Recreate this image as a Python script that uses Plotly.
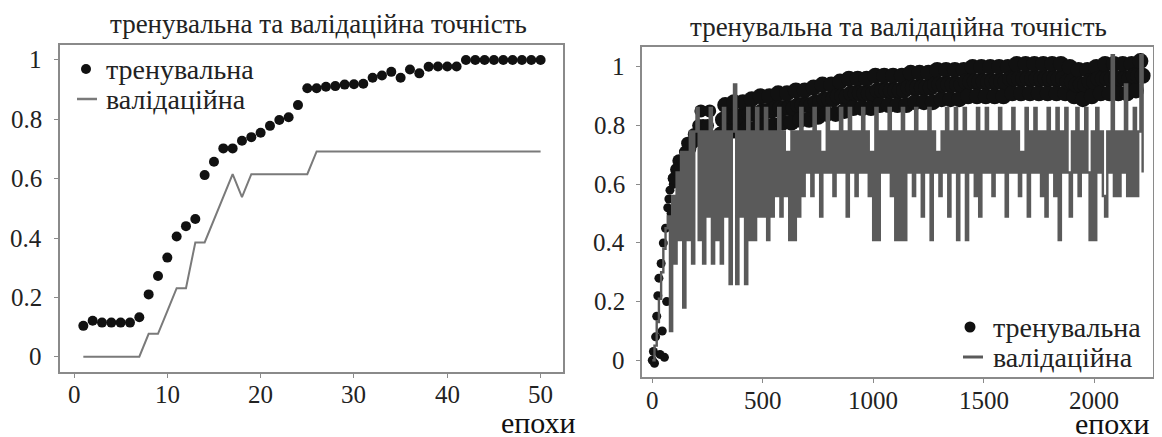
import plotly.graph_objects as go

# ---------------- left chart data (50 epochs) ----------------
epochs_left = list(range(1, 51))
train_left = [0.104, 0.121, 0.115, 0.115, 0.115, 0.115, 0.133, 0.21, 0.272, 0.334,
              0.405, 0.44, 0.464, 0.612, 0.657, 0.702, 0.702, 0.728, 0.74, 0.755,
              0.778, 0.798, 0.807, 0.848, 0.905, 0.905, 0.91, 0.912, 0.917, 0.918,
              0.92, 0.94, 0.948, 0.96, 0.94, 0.968, 0.955, 0.977, 0.978, 0.978,
              0.978, 1.0, 1.0, 1.0, 1.0, 1.0, 1.0, 1.0, 1.0, 1.0]
val_left = [0.0, 0.0, 0.0, 0.0, 0.0, 0.0, 0.0, 0.077, 0.077, 0.154,
            0.231, 0.231, 0.385, 0.385, 0.462, 0.538, 0.615, 0.538, 0.615, 0.615,
            0.615, 0.615, 0.615, 0.615, 0.615, 0.692, 0.692, 0.692, 0.692, 0.692,
            0.692, 0.692, 0.692, 0.692, 0.692, 0.692, 0.692, 0.692, 0.692, 0.692,
            0.692, 0.692, 0.692, 0.692, 0.692, 0.692, 0.692, 0.692, 0.692, 0.692]

# ---------------- right chart data (~2220 epochs) ----------------
train_right_epochs = [0, 5, 10, 15, 20, 25, 30, 35, 40, 45, 50, 55, 60, 65, 70, 75, 80, 85, 90, 95] + \
    list(range(100, 2221, 10))
train_right = [
    0.00, 0.03, -0.01, 0.08, 0.15, 0.22, 0.28, 0.02, 0.33, 0.10,
    0.40, 0.01, 0.45, 0.20, 0.52, 0.55, 0.58, 0.50, 0.62, 0.60,
    0.62, 0.65, 0.68, 0.66, 0.68, 0.71, 0.74, 0.72, 0.74, 0.77,
    0.75, 0.80, 0.85, 0.80, 0.75, 0.80, 0.85, 0.76, 0.71, 0.67,
    0.72, 0.77, 0.82, 0.87, 0.82, 0.78, 0.83, 0.88, 0.83, 0.78,
    0.83, 0.88, 0.83, 0.79, 0.84, 0.89, 0.84, 0.79, 0.84, 0.90,
    0.85, 0.80, 0.85, 0.90, 0.85, 0.80, 0.86, 0.91, 0.86, 0.81,
    0.86, 0.91, 0.86, 0.81, 0.86, 0.92, 0.87, 0.82, 0.87, 0.92,
    0.87, 0.82, 0.87, 0.93, 0.88, 0.83, 0.88, 0.94, 0.89, 0.84,
    0.89, 0.94, 0.89, 0.84, 0.90, 0.95, 0.90, 0.85, 0.90, 0.96,
    0.91, 0.86, 0.91, 0.96, 0.91, 0.86, 0.91, 0.96, 0.91, 0.86,
    0.91, 0.97, 0.92, 0.87, 0.92, 0.97, 0.92, 0.87, 0.92, 0.97,
    0.92, 0.87, 0.92, 0.97, 0.92, 0.87, 0.93, 0.98, 0.93, 0.88,
    0.93, 0.98, 0.93, 0.88, 0.93, 0.98, 0.93, 0.88, 0.94, 0.99,
    0.94, 0.89, 0.94, 0.99, 0.94, 0.89, 0.94, 0.99, 0.94, 0.89,
    0.94, 0.99, 0.95, 0.90, 0.95, 1.00, 0.95, 0.90, 0.95, 1.00,
    0.95, 0.90, 0.95, 1.00, 0.95, 0.90, 0.95, 1.00, 0.95, 0.90,
    0.95, 1.00, 0.96, 0.91, 0.96, 1.01, 0.96, 0.91, 0.96, 1.01,
    0.96, 0.91, 0.96, 1.01, 0.96, 0.91, 0.96, 1.01, 0.96, 0.91,
    0.96, 1.01, 0.96, 0.91, 0.96, 1.01, 0.96, 0.91, 0.95, 1.00,
    0.95, 0.90, 0.94, 0.99, 0.94, 0.89, 0.94, 0.99, 0.95, 0.90,
    0.95, 1.00, 0.96, 0.91, 0.96, 1.01, 0.96, 0.91, 0.96, 1.01,
    0.96, 0.91, 0.96, 1.01, 0.96, 0.91, 0.96, 1.01, 0.97, 0.92,
    0.97, 1.02, 0.97]

val_right_epochs = list(range(0, 2221, 10))
val_right = [
    0.00, 0.05, 0.13, 0.21, 0.30, 0.38, 0.45, 0.49, 0.10, 0.56,
    0.33, 0.64, 0.41, 0.71, 0.18, 0.71, 0.41, 0.78, 0.33, 0.78,
    0.86, 0.41, 0.78, 0.33, 0.78, 0.49, 0.86, 0.33, 0.78, 0.41,
    0.78, 0.33, 0.86, 0.49, 0.78, 0.26, 0.78, 0.94, 0.26, 0.78,
    0.49, 0.78, 0.26, 0.86, 0.41, 0.78, 0.41, 0.86, 0.49, 0.78,
    0.49, 0.86, 0.41, 0.78, 0.49, 0.78, 0.56, 0.86, 0.49, 0.78,
    0.56, 0.71, 0.41, 0.78, 0.41, 0.78, 0.49, 0.86, 0.56, 0.78,
    0.64, 0.78, 0.56, 0.86, 0.64, 0.78, 0.49, 0.71, 0.64, 0.86,
    0.64, 0.78, 0.56, 0.78, 0.64, 0.86, 0.64, 0.78, 0.49, 0.86,
    0.64, 0.78, 0.56, 0.78, 0.64, 0.86, 0.64, 0.78, 0.56, 0.71,
    0.41, 0.86, 0.41, 0.78, 0.64, 0.78, 0.64, 0.86, 0.56, 0.78,
    0.41, 0.78, 0.41, 0.86, 0.41, 0.78, 0.64, 0.78, 0.56, 0.86,
    0.64, 0.78, 0.49, 0.78, 0.64, 0.86, 0.41, 0.78, 0.64, 0.71,
    0.56, 0.78, 0.64, 0.86, 0.49, 0.78, 0.64, 0.86, 0.41, 0.78,
    0.64, 0.86, 0.41, 0.78, 0.64, 0.78, 0.56, 0.86, 0.49, 0.78,
    0.64, 0.86, 0.64, 0.78, 0.56, 0.78, 0.64, 0.86, 0.64, 0.78,
    0.49, 0.78, 0.64, 0.86, 0.64, 0.78, 0.56, 0.71, 0.64, 0.86,
    0.49, 0.78, 0.64, 0.86, 0.64, 0.78, 0.56, 0.78, 0.49, 0.86,
    0.64, 0.78, 0.56, 0.86, 0.41, 0.78, 0.64, 0.86, 0.64, 0.49,
    0.78, 0.64, 0.86, 0.56, 0.78, 0.64, 0.86, 0.64, 0.41, 0.78,
    0.41, 0.86, 0.64, 0.78, 0.56, 0.49, 0.78, 0.64, 1.04, 0.56,
    0.78, 0.56, 0.78, 0.64, 0.94, 0.56, 0.78, 0.56, 0.86, 0.56,
    0.78, 1.04, 0.64]

title_text = "тренувальна та валідаційна точність"
name_train = "тренувальна"
name_val = "валідаційна"
x_label = "епохи"

y_ticks = [0, 0.2, 0.4, 0.6, 0.8, 1]
y_ticktext = ["0", "0.2", "0.4", "0.6", "0.8", "1"]
left_xticks = [0, 10, 20, 30, 40, 50]
right_xticks = [0, 500, 1000, 1500, 2000]

SERIF = "Tinos, Liberation Serif, Times New Roman, serif"
W, H = 1162, 437
OFF = 8  # default body margin of the html page

TRAIN_COLOR = "#111111"
VAL_LEFT_COLOR = "#7a7a7a"
VAL_RIGHT_COLOR = "#5a5a5a"
TEXT_COLOR = "#222222"


def px_x(p):
    return (p - OFF) / W


def px_y(p):
    return 1 - (p - OFF) / H


# marker size grows with density of the cloud (style only)
right_marker_sizes = [9 if e < 100 else (13 if e < 300 else 16) for e in train_right_epochs]

fig = go.Figure()

fig.add_trace(go.Scatter(x=epochs_left, y=train_left, mode="markers", name=name_train,
                         marker=dict(color=TRAIN_COLOR, size=10, opacity=1,
                                     line=dict(width=0)),
                         xaxis="x", yaxis="y"))
fig.add_trace(go.Scatter(x=epochs_left, y=val_left, mode="lines", name=name_val,
                         line=dict(color=VAL_LEFT_COLOR, width=2),
                         xaxis="x", yaxis="y"))
fig.add_trace(go.Scatter(x=train_right_epochs, y=train_right, mode="markers", name=name_train,
                         marker=dict(color=TRAIN_COLOR, size=right_marker_sizes, opacity=1,
                                     line=dict(width=0, color=TRAIN_COLOR)),
                         xaxis="x2", yaxis="y2"))
fig.add_trace(go.Scatter(x=val_right_epochs, y=val_right, mode="lines", name=name_val,
                         line=dict(color=VAL_RIGHT_COLOR, width=2.4, shape="hv"),
                         xaxis="x2", yaxis="y2"))

axis_common = dict(showline=True, linecolor="#8a8a8a", linewidth=1.5, mirror=True,
                   showgrid=False, zeroline=False, ticks="outside", ticklen=4,
                   tickcolor="#8a8a8a", tickwidth=1, showticklabels=False)

annotations = []
shapes = []

tick_font = dict(family=SERIF, size=25, color=TEXT_COLOR)

# tick labels, placed through the axes' own scales
for v in left_xticks:
    annotations.append(dict(text=str(v), x=v, xref="x", y=px_y(394), yref="paper",
                            xanchor="center", yanchor="middle", showarrow=False,
                            font=tick_font))
for v in right_xticks:
    annotations.append(dict(text=str(v), x=v, xref="x2", y=px_y(400), yref="paper",
                            xanchor="center", yanchor="middle", showarrow=False,
                            font=tick_font))
for v, t in zip(y_ticks, y_ticktext):
    annotations.append(dict(text=t, x=px_x(44), xref="paper", y=v, yref="y",
                            xanchor="right", yanchor="middle", showarrow=False,
                            font=tick_font))
    annotations.append(dict(text=t, x=px_x(627), xref="paper", y=v, yref="y2",
                            xanchor="right", yanchor="middle", showarrow=False,
                            font=tick_font))

# titles and axis names
title_font = dict(family=SERIF, size=27, color=TEXT_COLOR)
annotations += [
    dict(text=title_text, x=px_x(318), y=px_y(24), xref="paper", yref="paper",
         xanchor="center", yanchor="middle", showarrow=False, font=title_font),
    dict(text=title_text, x=px_x(898), y=px_y(27), xref="paper", yref="paper",
         xanchor="center", yanchor="middle", showarrow=False, font=title_font),
    dict(text=x_label, x=px_x(538), y=px_y(422), xref="paper", yref="paper",
         xanchor="center", yanchor="middle", showarrow=False,
         font=dict(family=SERIF, size=30, color="#111111")),
    dict(text=x_label, x=px_x(1112), y=px_y(423), xref="paper", yref="paper",
         xanchor="center", yanchor="middle", showarrow=False,
         font=dict(family=SERIF, size=30, color="#111111")),
]

# legends (symbol + label)
legend_font = dict(family=SERIF, size=28, color=TEXT_COLOR)


def legend_entries(marker_cx, line_x0, line_x1, text_x, y_train, y_val, dot, line_color, lw):
    r = dot / 2
    shapes.append(dict(type="circle", xref="paper", yref="paper",
                       x0=px_x(marker_cx - r), x1=px_x(marker_cx + r),
                       y0=px_y(y_train + r), y1=px_y(y_train - r),
                       fillcolor=TRAIN_COLOR, line=dict(width=0)))
    shapes.append(dict(type="line", xref="paper", yref="paper",
                       x0=px_x(line_x0), x1=px_x(line_x1),
                       y0=px_y(y_val), y1=px_y(y_val),
                       line=dict(color=line_color, width=lw)))
    annotations.append(dict(text=name_train, x=px_x(text_x), y=px_y(y_train),
                            xref="paper", yref="paper", xanchor="left", yanchor="middle",
                            showarrow=False, font=legend_font))
    annotations.append(dict(text=name_val, x=px_x(text_x), y=px_y(y_val),
                            xref="paper", yref="paper", xanchor="left", yanchor="middle",
                            showarrow=False, font=legend_font))


legend_entries(86, 77, 97, 104, 69, 99, 10, VAL_LEFT_COLOR, 2.5)
legend_entries(970, 963, 983, 991, 327, 357, 11, VAL_RIGHT_COLOR, 3)

fig.update_layout(
    width=W, height=H,
    margin=dict(l=0, r=0, t=0, b=0),
    font=dict(family=SERIF, size=25, color=TEXT_COLOR),
    paper_bgcolor="white", plot_bgcolor="white",
    showlegend=False,
    xaxis=dict(domain=[px_x(60), px_x(563)], range=[-1.5, 52.4],
               tickvals=left_xticks, anchor="y", **axis_common),
    yaxis=dict(domain=[px_y(372), px_y(45)], range=[-0.0515, 1.0505],
               tickvals=y_ticks, anchor="x", **axis_common),
    xaxis2=dict(domain=[px_x(642), px_x(1153)], range=[-46.6, 2267],
                tickvals=right_xticks, anchor="y2", **axis_common),
    yaxis2=dict(domain=[px_y(377), px_y(47)], range=[-0.057, 1.068],
                tickvals=y_ticks, anchor="x2", **axis_common),
    annotations=annotations,
    shapes=shapes,
)

fig.write_html("out.html")
